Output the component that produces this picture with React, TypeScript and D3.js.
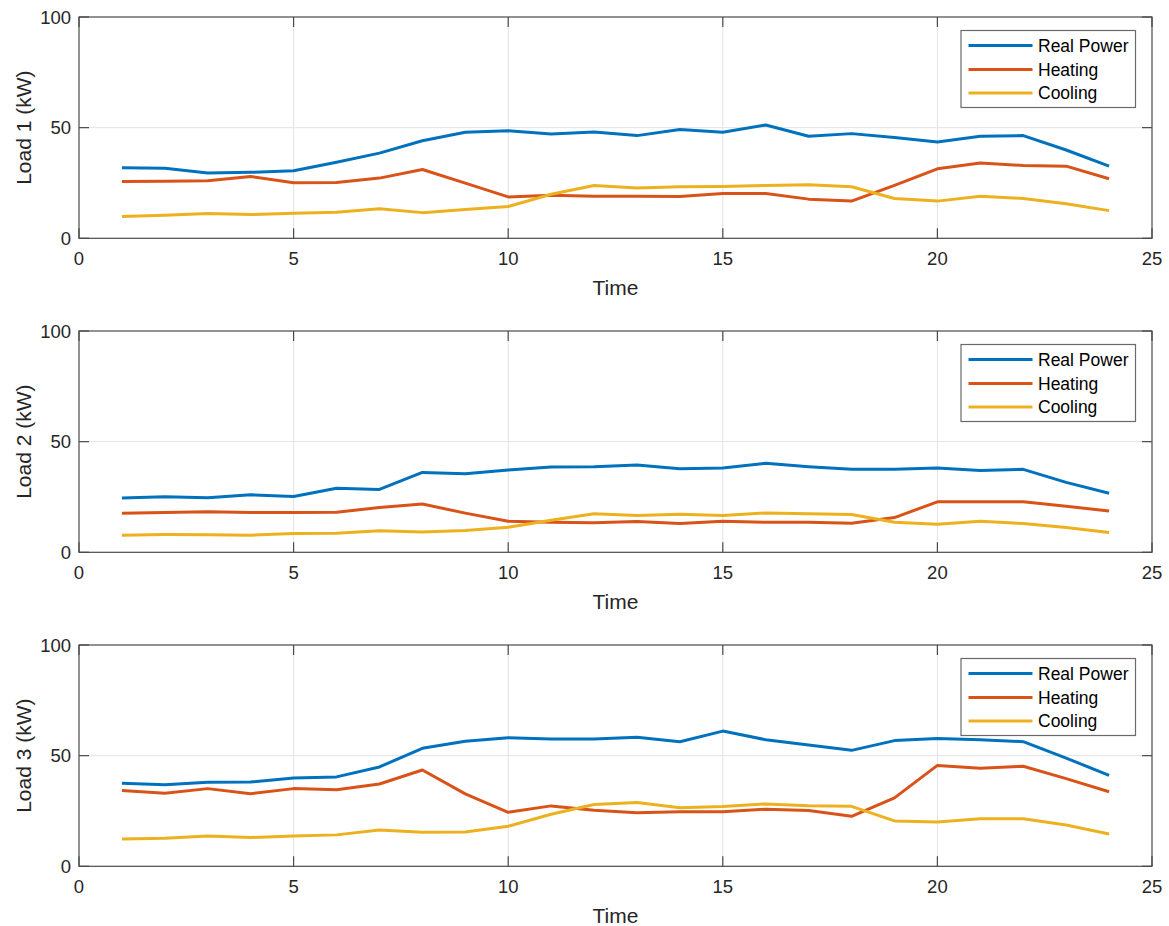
import React from "react";
import * as d3 from "d3";

const hours = [1, 2, 3, 4, 5, 6, 7, 8, 9, 10, 11, 12, 13, 14, 15, 16, 17, 18, 19, 20, 21, 22, 23, 24];
const seriesNames = ["Real Power", "Heating", "Cooling"];
const panelLabels = ["Load 1 (kW)", "Load 2 (kW)", "Load 3 (kW)"];
const xTicks = [0, 5, 10, 15, 20, 25];
const yTicks = [0, 50, 100];

const load1Real = [31.9, 31.7, 29.5, 29.8, 30.5, 34.4, 38.5, 44.1, 47.9, 48.6, 47.1, 48.0, 46.4, 49.2, 47.9, 51.2, 46.1, 47.3, 45.6, 43.5, 46.1, 46.4, 39.9, 32.6];
const load1Heat = [25.7, 25.8, 26.0, 27.9, 25.1, 25.2, 27.2, 31.1, 24.9, 18.7, 19.5, 19.0, 19.0, 18.9, 20.2, 20.2, 17.7, 16.8, 23.9, 31.4, 34.0, 32.9, 32.6, 26.9];
const load1Cool = [9.8, 10.4, 11.2, 10.7, 11.3, 11.8, 13.4, 11.6, 13.0, 14.4, 19.9, 23.9, 22.7, 23.3, 23.4, 23.9, 24.2, 23.3, 18.0, 16.8, 19.0, 18.0, 15.6, 12.5];

const load2Real = [24.5, 25.1, 24.6, 26.0, 25.2, 28.9, 28.4, 36.1, 35.5, 37.2, 38.5, 38.7, 39.4, 37.8, 38.1, 40.2, 38.7, 37.5, 37.5, 38.1, 37.0, 37.5, 31.6, 26.7];
const load2Heat = [17.7, 18.0, 18.3, 18.0, 18.0, 18.1, 20.2, 21.8, 17.7, 14.0, 13.6, 13.3, 13.9, 13.0, 14.0, 13.6, 13.6, 13.1, 15.7, 22.8, 22.8, 22.8, 20.8, 18.7];
const load2Cool = [7.7, 8.0, 7.9, 7.7, 8.5, 8.6, 9.7, 9.2, 9.8, 11.3, 14.5, 17.4, 16.6, 17.2, 16.6, 17.8, 17.4, 17.1, 13.6, 12.7, 14.0, 13.0, 11.2, 8.9];

const load3Real = [37.5, 36.9, 38.0, 38.1, 39.9, 40.4, 44.9, 53.3, 56.5, 58.1, 57.5, 57.5, 58.3, 56.3, 61.1, 57.2, 54.8, 52.4, 56.8, 57.8, 57.2, 56.3, 48.9, 41.1];
const load3Heat = [34.3, 33.0, 35.1, 32.8, 35.1, 34.6, 37.2, 43.5, 32.7, 24.4, 27.3, 25.3, 24.2, 24.7, 24.7, 25.8, 25.2, 22.6, 30.9, 45.6, 44.3, 45.2, 39.6, 33.7];
const load3Cool = [12.3, 12.7, 13.7, 13.0, 13.7, 14.2, 16.4, 15.4, 15.5, 18.1, 23.5, 27.9, 28.8, 26.5, 27.0, 28.2, 27.4, 27.1, 20.5, 20.0, 21.5, 21.5, 18.7, 14.6];

const panels = [
  [load1Real, load1Heat, load1Cool],
  [load2Real, load2Heat, load2Cool],
  [load3Real, load3Heat, load3Cool],
];

const colors = ["#0072BD", "#D95319", "#EDB120"];
const FONT = "'Liberation Sans', Arial, Helvetica, sans-serif";

const W = 1169;
const H = 926;
const left = 79;
const right = 1152;
const panelTops = [17, 331, 645];
const plotH = 221.3;
const axisColor = "#4a4a4a";
const gridColor = "#e3e3e3";
const textColor = "#262626";
const tickLen = 10;

function Panel({ idx }: { idx: number }) {
  const top = panelTops[idx];
  const bottom = top + plotH;
  const x = d3.scaleLinear().domain([0, 25]).range([left, right]);
  const y = d3.scaleLinear().domain([0, 100]).range([bottom, top]);
  const line = d3
    .line<number>()
    .x((_, i) => x(hours[i]))
    .y((d) => y(d));
  const data = panels[idx];

  const legLeft = 961;
  const legRight = 1135.5;
  const legTop = top + 13.5;
  const legBottom = legTop + 77;
  const rowY = [legTop + 15, legTop + 39, legTop + 62.5];

  return (
    <g>
      <rect x={left} y={top} width={right - left} height={plotH} fill="#fff" />
      {/* grid */}
      {xTicks.slice(1, -1).map((t) => (
        <line key={"gx" + t} x1={x(t)} x2={x(t)} y1={top} y2={bottom} stroke={gridColor} strokeWidth={1} />
      ))}
      {yTicks.slice(1, -1).map((t) => (
        <line key={"gy" + t} x1={left} x2={right} y1={y(t)} y2={y(t)} stroke={gridColor} strokeWidth={1} />
      ))}
      {/* series */}
      {data.map((s, i) => (
        <path
          key={"s" + i}
          d={line(s) || ""}
          fill="none"
          stroke={colors[i]}
          strokeWidth={3}
          strokeLinejoin="round"
        />
      ))}
      {/* box */}
      <rect x={left} y={top} width={right - left} height={plotH} fill="none" stroke={axisColor} strokeWidth={1.2} />
      {/* ticks */}
      {xTicks.map((t) => (
        <g key={"tx" + t}>
          <line x1={x(t)} x2={x(t)} y1={bottom} y2={bottom - tickLen} stroke={axisColor} strokeWidth={1.2} />
          <line x1={x(t)} x2={x(t)} y1={top} y2={top + tickLen} stroke={axisColor} strokeWidth={1.2} />
          <text
            x={x(t)}
            y={bottom + 26.5}
            textAnchor="middle"
            fontSize={18.5}
            fontFamily={FONT}
            fill={textColor}
          >
            {t}
          </text>
        </g>
      ))}
      {yTicks.map((t) => (
        <g key={"ty" + t}>
          <line x1={left} x2={left + tickLen} y1={y(t)} y2={y(t)} stroke={axisColor} strokeWidth={1.2} />
          <line x1={right} x2={right - tickLen} y1={y(t)} y2={y(t)} stroke={axisColor} strokeWidth={1.2} />
          <text
            x={left - 8}
            y={y(t)}
            dy="0.36em"
            textAnchor="end"
            fontSize={18.5}
            fontFamily={FONT}
            fill={textColor}
          >
            {t}
          </text>
        </g>
      ))}
      {/* axis labels */}
      <text
        x={(left + right) / 2}
        y={bottom + 56.5}
        textAnchor="middle"
        fontSize={21}
        fontFamily={FONT}
        fill={textColor}
      >
        Time
      </text>
      <text
        transform={`translate(${31},${(top + bottom) / 2}) rotate(-90)`}
        textAnchor="middle"
        fontSize={21}
        fontFamily={FONT}
        fill={textColor}
      >
        {panelLabels[idx]}
      </text>
      {/* legend */}
      <rect
        x={legLeft}
        y={legTop}
        width={legRight - legLeft}
        height={legBottom - legTop}
        fill="#fff"
        stroke="#6a6a6a"
        strokeWidth={1.2}
      />
      {seriesNames.map((name, i) => (
        <g key={"lg" + i}>
          <line x1={968.5} x2={1032.5} y1={rowY[i]} y2={rowY[i]} stroke={colors[i]} strokeWidth={3} />
          <text
            x={1038}
            y={rowY[i]}
            dy="0.36em"
            fontSize={17.5}
            fontFamily={FONT}
            fill="#000"
          >
            {name}
          </text>
        </g>
      ))}
    </g>
  );
}

export default function App() {
  return (
    <svg
      width={W}
      height={H}
      viewBox={`0 0 ${W} ${H}`}
      style={{ position: "absolute", left: 0, top: 0, background: "#fff" }}
    >
      <rect x={0} y={0} width={W} height={H} fill="#fff" />
      {[0, 1, 2].map((i) => (
        <Panel key={i} idx={i} />
      ))}
    </svg>
  );
}
